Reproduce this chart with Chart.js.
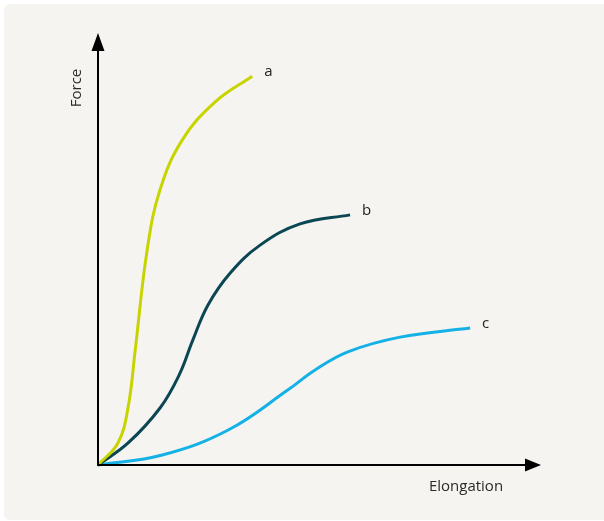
<!DOCTYPE html>
<html>
<head>
<meta charset="utf-8">
<script src="https://cdn.jsdelivr.net/npm/chart.js@4/dist/chart.umd.min.js"></script>
<style>
  html, body { margin: 0; padding: 0; background: #ffffff; }
  #wrap { width: 604px; height: 521px; position: relative; }
</style>
</head>
<body>
<div id="wrap"><canvas id="c" width="604" height="521"></canvas></div>
<script>
// Data (x = elongation, y = force, arbitrary units 0–100)
const seriesLabels = ["a", "b", "c"];
const curveA = [
  {x:0,y:0},{x:4.5,y:5.1},{x:6.8,y:13.4},{x:8.4,y:26.6},{x:11.1,y:49.8},
  {x:14.0,y:63.7},{x:19.0,y:75.2},{x:26.4,y:84.0},{x:34.8,y:90.0}
];
const curveB = [
  {x:0,y:0},{x:6.8,y:5.1},{x:14.0,y:13.2},{x:18.3,y:20.8},{x:21.4,y:28.9},{x:24.8,y:37.0},
  {x:29.8,y:44.4},{x:36.6,y:50.9},{x:45.6,y:55.8},{x:56.9,y:57.9}
];
const curveC = [
  {x:0,y:0},{x:14.5,y:2.3},{x:29.4,y:8.1},{x:42.9,y:17.4},{x:49.0,y:22.0},
  {x:56.4,y:26.2},{x:68.2,y:29.6},{x:84.0,y:31.7}
];
const axisTitles = { x: "Elongation", y: "Force" };
const colors = ["#c8d400", "#0b4752", "#14b1e7"];

const FONT = '"Open Sans", "Liberation Sans", sans-serif';

const decor = {
  id: 'decor',
  beforeDraw(chart) {
    const ctx = chart.ctx;
    ctx.save();
    ctx.fillStyle = '#ffffff';
    ctx.fillRect(0, 0, chart.width, chart.height);
    ctx.fillStyle = '#f5f4f1';
    ctx.beginPath();
    if (ctx.roundRect) ctx.roundRect(4, 4, chart.width - 4, chart.height - 5, [6, 0, 0, 6]);
    else ctx.rect(4, 4, chart.width - 4, chart.height - 5);
    ctx.fill();
    ctx.restore();
  },
  afterDatasetsDraw(chart) {
    const ctx = chart.ctx;
    const xs = chart.scales.x, ys = chart.scales.y;
    const ox = xs.getPixelForValue(0), oy = ys.getPixelForValue(0);
    const right = chart.chartArea.right, top = chart.chartArea.top;
    ctx.save();
    // axes
    ctx.strokeStyle = '#000';
    ctx.lineWidth = 2;
    ctx.beginPath();
    ctx.moveTo(ox, oy);
    ctx.lineTo(ox, top + 14);
    ctx.moveTo(ox - 1, oy);
    ctx.lineTo(right - 14, oy);
    ctx.stroke();
    ctx.fillStyle = '#000';
    // y arrow
    ctx.beginPath();
    ctx.moveTo(ox, top);
    ctx.lineTo(ox - 6.5, top + 18);
    ctx.lineTo(ox + 6.5, top + 18);
    ctx.closePath();
    ctx.fill();
    // x arrow
    ctx.beginPath();
    ctx.moveTo(right, oy);
    ctx.lineTo(right - 16, oy - 6.5);
    ctx.lineTo(right - 16, oy + 6.5);
    ctx.closePath();
    ctx.fill();

    // series labels
    ctx.fillStyle = '#222';
    ctx.font = '15px ' + FONT;
    ctx.textBaseline = 'middle';
    ctx.textAlign = 'left';
    const curves = [curveA, curveB, curveC];
    curves.forEach((c, i) => {
      const last = c[c.length - 1];
      const px = xs.getPixelForValue(last.x), py = ys.getPixelForValue(last.y);
      ctx.fillText(seriesLabels[i], px + 12, py - 4);
    });

    // axis titles
    ctx.fillStyle = '#2a2a2a';
    ctx.font = '15px ' + FONT;
    ctx.textAlign = 'center';
    ctx.textBaseline = 'middle';
    ctx.fillText(axisTitles.x, right - 75, oy + 22);
    ctx.save();
    ctx.translate(ox - 21, top + 55);
    ctx.rotate(-Math.PI / 2);
    ctx.fillText(axisTitles.y, 0, 0);
    ctx.restore();
    ctx.restore();
  }
};

const mk = (data, i) => ({
  label: seriesLabels[i],
  data: data,
  borderColor: colors[i],
  borderWidth: 3,
  pointRadius: 0,
  fill: false,
  tension: 0.4,
  borderCapStyle: 'butt',
  clip: false
});

new Chart(document.getElementById('c'), {
  type: 'line',
  data: { datasets: [mk(curveA, 0), mk(curveB, 1), mk(curveC, 2)] },
  options: {
    responsive: false,
    animation: false,
    events: [],
    layout: { padding: { left: 98, top: 33, right: 63, bottom: 56 } },
    plugins: { legend: { display: false }, tooltip: { enabled: false } },
    scales: {
      x: { type: 'linear', min: 0, max: 100, display: false },
      y: { type: 'linear', min: 0, max: 100, display: false }
    }
  },
  plugins: [decor]
});
</script>
</body>
</html>
